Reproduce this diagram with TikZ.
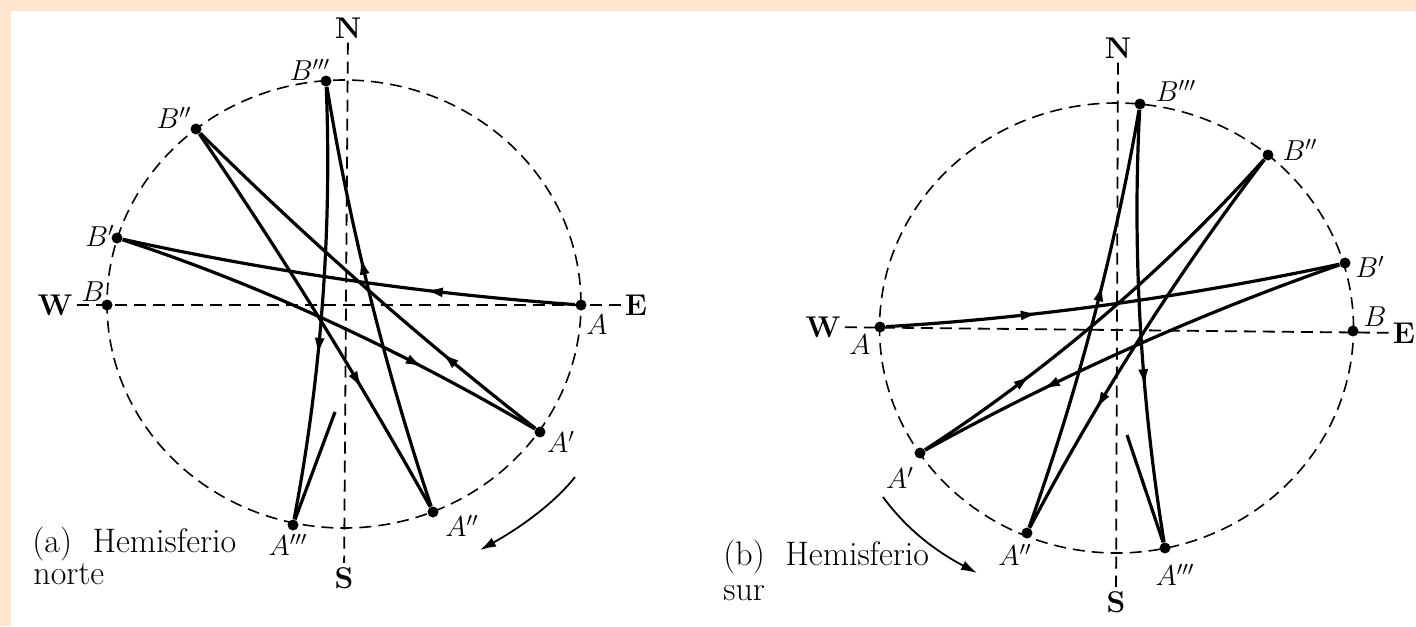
\documentclass[tikz,border=0pt]{standalone}
\usepackage{tikz}
\usetikzlibrary{arrows.meta, decorations.markings}
\definecolor{scanpeach}{RGB}{255, 229, 205}

\begin{document}
\begin{tikzpicture}[
    x=0.5pt, y=-0.5pt,
    dot/.style={circle, fill=black, inner sep=0pt, minimum size=5.5pt},
    lbl/.style={inner sep=1pt, font=\fontsize{14}{16}\selectfont},
    axislbl/.style={inner sep=2pt, font=\fontsize{15}{17}\selectfont\bfseries},
    caption/.style={anchor=base west, inner sep=0pt, font=\fontsize{17}{19}\selectfont},
    axis/.style={line width=0.9pt, dash pattern=on 6pt off 3.5pt},
    orbit/.style={line width=0.8pt, dash pattern=on 6pt off 3.5pt},
    swing/.style={line width=1.6pt},
    midarrow/.style={postaction={decorate}, decoration={markings, mark=at position #1 with {\arrow{Latex[length=9pt,width=5pt]}}}},
    turn/.style={line width=0.9pt, -{Latex[length=8pt,width=5pt]}}
  ]
  \useasboundingbox (0,0) rectangle (1416,626);
  \fill[scanpeach] (0,0) rectangle (1416,626);
  \fill[white] (11,11) rectangle (1416,626);

  % (a) Hemisferio norte
  \node[axislbl] (Nn) at (348,28) {N};
  \node[axislbl] (Sn) at (344,578) {S};
  \node[axislbl] (Wn) at (55,305) {W};
  \node[axislbl] (En) at (636,305) {E};
  \draw[axis] (Nn) -- (Sn);
  \draw[axis] (Wn) -- (En);
  \draw[orbit] (344,304) ellipse [x radius=118.5pt, y radius=112pt];

  \node[dot] (An) at (581,305) {};
  \node[dot] (A1n) at (540,432) {};
  \node[dot] (A2n) at (433,512) {};
  \node[dot] (A3n) at (293,525) {};
  \node[dot] (Bn) at (107,305) {};
  \node[dot] (B1n) at (117,238) {};
  \node[dot] (B2n) at (196,129) {};
  \node[dot] (B3n) at (326,81) {};
  \coordinate (endn) at (335,412);

  \node[lbl] (lAn) at (597,325) {$A$};
  \node[lbl] (lA1n) at (561,442) {$A'$};
  \node[lbl] (lA2n) at (462,526) {$A''$};
  \node[lbl] (lA3n) at (288,545) {$A'''$};
  \node[lbl] (lBn) at (93,292) {$B$};
  \node[lbl] (lB1n) at (100,236) {$B'$};
  \node[lbl] (lB2n) at (174,118) {$B''$};
  \node[lbl] (lB3n) at (310,70) {$B'''$};

  \draw[swing, midarrow=0.33] (An) .. controls (426,294) and (272,272) .. (B1n);
  \draw[swing, midarrow=0.72] (B1n) .. controls (258,284) and (399,349) .. (A1n);
  \draw[swing, midarrow=0.27] (A1n) .. controls (419,338) and (305,237) .. (B2n);
  \draw[swing, midarrow=0.69] (B2n) .. controls (281,253) and (360,381) .. (A2n);
  \draw[swing, midarrow=0.6] (A2n) .. controls (386,371) and (350,228) .. (B3n);
  \draw[swing, midarrow=0.62] (B3n) .. controls (332,230) and (321,378) .. (A3n);
  \draw[swing] (A3n) -- (endn);

  \coordinate (rotn1) at (575,477);
  \coordinate (rotn2) at (480,550);
  \draw[turn] (rotn1) .. controls (557,500) and (525,525) .. (rotn2);

  \node[caption] (capn1) at (32,552) {(a)\ \ Hemisferio};
  \node[caption] (capn2) at (33,584) {norte};

  % (b) Hemisferio sur
  \node[axislbl] (Ns) at (1118,48) {N};
  \node[axislbl] (Ss) at (1116,602) {S};
  \node[axislbl] (Ws) at (823,327) {W};
  \node[axislbl] (Es) at (1404,333) {E};
  \draw[axis] (Ns) -- (Ss);
  \draw[axis] (Ws) -- (Es);
  \draw[orbit] (1116.5,328) ellipse [x radius=118.5pt, y radius=112.5pt];

  \node[dot] (As) at (880,327) {};
  \node[dot] (A1s) at (920,453) {};
  \node[dot] (A2s) at (1027,533) {};
  \node[dot] (A3s) at (1165,548) {};
  \node[dot] (Bs) at (1353,331) {};
  \node[dot] (B1s) at (1345,263) {};
  \node[dot] (B2s) at (1268,155) {};
  \node[dot] (B3s) at (1140,104) {};
  \coordinate (ends) at (1127,435);

  \node[lbl] (lAs) at (860,345) {$A$};
  \node[lbl] (lA1s) at (900,478) {$A'$};
  \node[lbl] (lA2s) at (1015,555) {$A''$};
  \node[lbl] (lA3s) at (1175,575) {$A'''$};
  \node[lbl] (lBs) at (1375,317) {$B$};
  \node[lbl] (lB1s) at (1370,267) {$B'$};
  \node[lbl] (lB2s) at (1300,150) {$B''$};
  \node[lbl] (lB3s) at (1176,91) {$B'''$};

  \draw[swing, midarrow=0.335] (As) .. controls (1035,318) and (1190,296) .. (B1s);
  \draw[swing, midarrow=0.71] (B1s) .. controls (1198,314) and (1056,378) .. (A1s);
  \draw[swing, midarrow=0.29] (A1s) .. controls (1049,369) and (1165,270) .. (B2s);
  \draw[swing, midarrow=0.69] (B2s) .. controls (1177,274) and (1097,400) .. (A2s);
  \draw[swing, midarrow=0.59] (A2s) .. controls (1077,393) and (1115,250) .. (B3s);
  \draw[swing, midarrow=0.64] (B3s) .. controls (1132,252) and (1141,400) .. (A3s);
  \draw[swing] (A3s) -- (ends);

  \coordinate (rots1) at (883,497);
  \coordinate (rots2) at (977,573);
  \draw[turn] (rots1) .. controls (902,523) and (928,547) .. (rots2);

  \node[caption] (caps1) at (723,565) {(b)\ \ Hemisferio};
  \node[caption] (caps2) at (723,600) {sur};
\end{tikzpicture}
\end{document}
